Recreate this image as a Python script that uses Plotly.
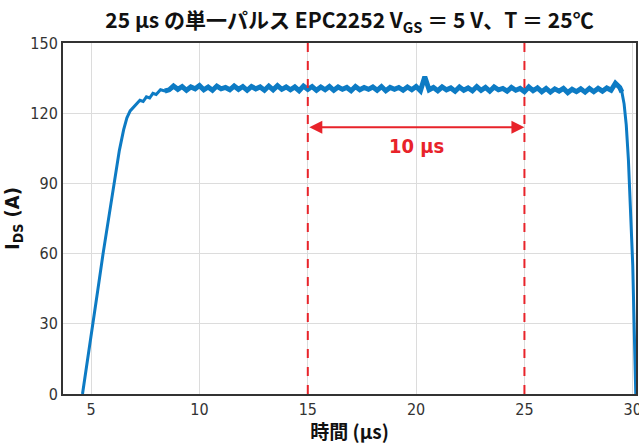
import plotly.graph_objects as go

# Rise segment (µs, A)
rise_t = [4.6, 4.85, 5.1, 5.3, 5.55, 5.8, 6.05, 6.3, 6.5, 6.65, 6.8, 6.95, 7.1, 7.25, 7.4, 7.55, 7.7, 7.85, 8.0, 8.2, 8.4]
rise_i = [0, 15, 30, 44, 60, 75, 90, 104, 113, 118, 121, 122.5, 124, 125.5, 125, 127, 126.5, 128.5, 128, 130, 129.5]

# Plateau, sampled every 0.2 µs from 8.6 µs
plateau_start = 8.6
plateau_dt = 0.2
plateau_i = [
    130.0, 131.6, 130.2, 131.4, 129.8, 131.2, 130.4, 131.8,
    130.0, 131.2, 129.8, 131.6, 130.4, 131.0, 130.0, 131.6, 130.2, 131.4,
    129.8, 131.4, 130.4, 131.2, 129.8, 131.6, 130.0, 131.8, 130.2, 131.2,
    130.0, 131.2, 129.6, 131.6, 130.2, 131.4, 129.8, 131.2, 130.0, 131.4,
    129.8, 131.2, 130.2, 131.0, 129.6, 131.4, 130.0, 131.0, 130.2, 131.2,
    129.8, 131.4, 129.6, 131.0, 130.2, 131.0, 129.8, 131.2, 130.0, 131.4,
    129.6, 135.6, 130.0, 131.0, 129.6, 131.2, 130.0, 130.8, 129.4, 131.2,
    129.8, 130.8, 129.6, 131.4, 129.8, 131.0, 129.4, 131.2, 130.0, 130.6,
    129.4, 131.0, 129.8, 130.6, 129.2, 131.2, 129.6, 130.8, 129.2, 130.6,
    129.0, 130.4, 129.4, 130.6, 128.8, 130.2, 129.2, 130.4, 129.0, 130.6,
    129.2, 130.6, 129.4, 130.8, 129.8, 132.8, 131.0,
]

# Fall segment
fall_t = [29.5, 29.6, 29.7, 29.8, 29.9, 30.0, 30.05, 30.1, 30.14]
fall_i = [129, 124, 115, 100, 80, 55, 35, 15, 0]

x_ticks = [5, 10, 15, 20, 25, 30]
y_ticks = [0, 30, 60, 90, 120, 150]
marker_lines = [15, 25]
span_label = "10 µs"

plateau_t = [round(plateau_start + k * plateau_dt, 3) for k in range(len(plateau_i))]

tick_font = dict(family="Liberation Sans Narrow, DejaVu Sans Condensed, sans-serif", size=16, color="#333")
cjk = "Noto Sans CJK JP, sans-serif"
blue = "#0d7bc4"

fig = go.Figure()
fig.add_trace(go.Scatter(x=rise_t + [plateau_t[0]], y=rise_i + [plateau_i[0]], mode="lines",
                         line=dict(color=blue, width=3), showlegend=False, hoverinfo="skip"))
fig.add_trace(go.Scatter(x=[rise_t[-1]] + plateau_t + [fall_t[0]],
                         y=[rise_i[-1]] + plateau_i + [fall_i[0]], mode="lines",
                         line=dict(color=blue, width=5), showlegend=False, hoverinfo="skip"))
fig.add_trace(go.Scatter(x=[plateau_t[-1]] + fall_t, y=[plateau_i[-1]] + fall_i, mode="lines",
                         line=dict(color=blue, width=3), showlegend=False, hoverinfo="skip"))

for xv in marker_lines:
    fig.add_shape(type="line", x0=xv, x1=xv, y0=0, y1=150, xref="x", yref="y",
                  line=dict(color="#e8232a", width=2, dash="dash"))

fig.add_annotation(x=marker_lines[1], y=114, ax=marker_lines[0], ay=114,
                   xref="x", yref="y", axref="x", ayref="y", text="",
                   showarrow=True, arrowside="end+start", arrowhead=2,
                   arrowsize=1.3, arrowwidth=2, arrowcolor="#e8232a")
fig.add_annotation(x=(marker_lines[0] + marker_lines[1]) / 2, y=106, xref="x", yref="y",
                   text="<b>" + span_label + "</b>", showarrow=False,
                   font=dict(family=tick_font["family"], size=20, color="#e8232a"))

fig.update_layout(
    width=639, height=444,
    margin=dict(l=63, r=3, t=43, b=50, autoexpand=False),
    paper_bgcolor="white", plot_bgcolor="white",
    title=dict(text="<b>25 µs の単一パルス EPC2252 V<sub>GS</sub> ＝ 5 V、T ＝ 25℃</b>",
               x=0.5, xref="paper", y=1 - 21 / 444, yref="container", yanchor="middle",
               font=dict(family=cjk, size=21, color="#111")),
)
fig.update_xaxes(range=[3.7, 30.15], tickvals=x_ticks, showgrid=True, gridcolor="#dcdcdc",
                 gridwidth=1, showline=True, linecolor="#333", linewidth=2, mirror=True,
                 ticks="", tickfont=tick_font, zeroline=False, automargin=False,
                 ticklabeloverflow="allow",
                 title=dict(text="<b>時間 (µs)</b>", standoff=8,
                            font=dict(family=cjk, size=19, color="#111")))
fig.update_yaxes(range=[0, 150], tickvals=y_ticks, showgrid=True, gridcolor="#dcdcdc",
                 gridwidth=1, showline=True, linecolor="#333", linewidth=2, mirror=True,
                 ticks="", tickfont=tick_font, zeroline=False, automargin=False,
                 title=dict(text="<b>I<sub>DS</sub> (A)</b>", standoff=8,
                            font=dict(family=tick_font["family"], size=20, color="#111")))

page_fix = ("document.documentElement.style.overflow='hidden';"
            "document.body.style.overflow='hidden';"
            "document.body.style.margin='0';")
fig.write_html("out.html", post_script=page_fix, config={"displayModeBar": False})
